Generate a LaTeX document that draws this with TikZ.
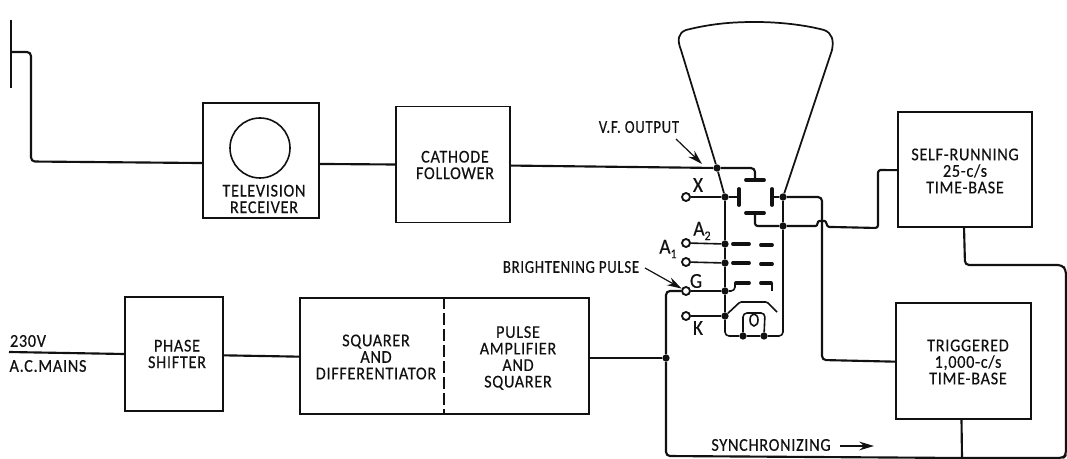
\documentclass[tikz,border=0pt]{standalone}
\usepackage{fontspec}
\setmainfont[LetterSpace=4,FakeStretch=0.9,FakeBold=0.35]{Carlito}
\newfontfamily\narrowface[LetterSpace=4,FakeStretch=0.82,FakeBold=0.35]{Carlito}
\usetikzlibrary{arrows.meta}
\definecolor{ink}{HTML}{111111}
\tikzset{
  wire/.style={draw=ink,line width=1.6pt,line join=round,rounded corners=3pt},
  thin wire/.style={draw=ink,line width=1.2pt,line join=round,rounded corners=3pt},
  plate/.style={draw=ink,line width=2.9pt,line cap=round},
  boxnode/.style={draw=ink,line width=1.2pt,inner sep=0pt,text=ink},
  label/.style={text=ink,inner sep=0pt,align=center,font=\fontsize{13.5}{12.4}\selectfont},
  narrowlabel/.style={text=ink,inner sep=0pt,align=center,font=\narrowface\fontsize{13.5}{12.4}\selectfont},
  pin/.style={text=ink,inner sep=0pt,font=\fontsize{16}{16}\selectfont},
  dot/.style={circle,fill=ink,inner sep=0pt,minimum size=5.5pt},
  term/.style={circle,draw=ink,fill=white,line width=1.4pt,inner sep=0pt,minimum size=6pt},
  pointer/.style={draw=ink,line width=0.9pt,-{Stealth[length=11pt,width=6.5pt]}},
}
\newcommand{\lowr}[1]{\raisebox{-3.5pt}{\fontsize{10}{10}\selectfont #1}}
\begin{document}
\begin{tikzpicture}[x=0.75pt,y=-0.75pt]
\useasboundingbox (0,0) rectangle (1067,459);
% boxes
\node[boxnode,minimum width=87pt,minimum height=86.5pt] (tv) at (261,160.5) {};
\node[boxnode,minimum width=85.5pt,minimum height=87pt] (cf) at (453,164.5) {};
\node[boxnode,minimum width=100.5pt,minimum height=86.5pt] (self) at (965,169.5) {};
\node[boxnode,minimum width=101.5pt,minimum height=87pt] (trig) at (963.5,361) {};
\node[boxnode,minimum width=73.5pt,minimum height=85.5pt] (phase) at (174,354) {};
\node[boxnode,minimum width=216.75pt,minimum height=87pt] (sq) at (444.5,356) {};
\draw[draw=ink,line width=1.2pt,dash pattern=on 9pt off 3pt] (sq.north -| 444,0) -- (sq.south -| 444,0);
% box texts
\node[circle,draw=ink,line width=1.2pt,minimum size=45pt,inner sep=0pt] (screen) at (260,148) {};
\node[label] (tvtext) at (264,199) {TELEVISION\\RECEIVER};
\node[label] (cftext) at (455,165) {CATHODE\\FOLLOWER};
\node[label] (selftext) at (965,171) {SELF-RUNNING\\25-c/s\\TIME-BASE};
\node[label] (trigtext) at (968,362) {TRIGGERED\\1,000-c/s\\TIME-BASE};
\node[label] (phasetext) at (177,354) {PHASE\\SHIFTER};
\node[label] (sqtext) at (376,357) {SQUARER\\AND\\DIFFERENTIATOR};
\node[label] (pulsetext) at (518,358) {PULSE\\AMPLIFIER\\AND\\SQUARER};
% free labels
\node[label] (mv) at (28,341) {230V};
\node[label] (mains) at (48,366) {A.C.MAINS};
\node[narrowlabel] (vf) at (639,127) {V.F. OUTPUT};
\node[narrowlabel] (bp) at (571,267) {BRIGHTENING PULSE};
\node[label] (sync) at (771,445) {SYNCHRONIZING};
\node[pin] (lX) at (698,185) {X};
\node[pin] (lA2) at (702,231) {A\lowr{2}};
\node[pin] (lA1) at (668,249) {A\lowr{1}};
\node[pin] (lG) at (696,281) {G};
\node[pin] (lK) at (698,328) {K};
% terminals
\node[term] (tX) at (686,197) {};
\node[term] (tA2) at (686,243) {};
\node[term] (tA1) at (686,262) {};
\node[term] (tG) at (686,291) {};
\node[term] (tK) at (686,316) {};
% junction dots
\node[dot] (jV) at (717,168) {};
\node[dot] (jL) at (725,197) {};
\node[dot] (jR) at (783,197) {};
\node[dot] (jP) at (783,226) {};
\node[dot] (jA2) at (725,244) {};
\node[dot] (jA1) at (725,263) {};
\node[dot] (jG) at (725,291) {};
\node[dot] (jK) at (725,316) {};
\node[dot] (jH1) at (743,336) {};
\node[dot] (jH2) at (764,336) {};
\node[dot] (jS) at (666,358) {};
% free points
\coordinate (aT) at (11,20);
\coordinate (aB) at (11,88);
\coordinate (aM) at (11,52);
\coordinate (mIn) at (9,352);
\coordinate (pTop) at (755,180);
\coordinate (pBot) at (755,213);
\coordinate (pL) at (739,197);
\coordinate (pR) at (772,197);
\coordinate (vfS) at (676,139);
\coordinate (vfE) at (702,164);
\coordinate (bpS) at (645,268);
\coordinate (syncS) at (840,446);
\coordinate (syncE) at (874,446);
% CRT envelope
\draw[draw=ink,line width=1.3pt] (jV) -- (681,50) .. controls (677,40) and (678,33) .. (686,30)
  .. controls (710,24) and (730,22) .. (755,22) .. controls (780,22) and (805,25) .. (824,30)
  .. controls (832,33) and (834,40) .. (832,50) -- (jR);
\draw[draw=ink,line width=1.3pt] (jV) -- (jL);
% electrodes
\draw[plate] (746,180) -- (764,180);
\draw[plate] (746,213) -- (764,213);
\draw[plate] (739,189) -- (739,205);
\draw[plate] (772,189) -- (772,205);
\draw[plate] (jA2) ++(8,0) -- (749,244);
\draw[plate] (761,245) -- (772,245);
\draw[plate] (jA1) ++(8,0) -- (749,263);
\draw[plate] (761,264) -- (772,264);
\draw[plate] (736,283) -- (749,283);
\draw[plate] (761,283) -- (771,283);
% main signal path
\draw[wire,line width=2pt] (aT) -- (aB);
\draw[wire] (aM) -- (31,52) -- (31,161.5) -- ([yshift=-1.9pt]tv.west);
\draw[wire] ([yshift=-2.6pt]tv.east) -- (cf.west);
\draw[wire] ([yshift=-0.8pt]cf.east) -- (jV) -- (755,168) -- (pTop);
\draw[wire] ([yshift=-1pt]phase.east) -- ([yshift=-0.5pt]sq.west);
\draw[wire] (mIn) -- (phase.west);
\draw[wire] ([yshift=-1.5pt]sq.east) -- (jS);
% terminals to tube
\draw[thin wire] (tX) -- (jL) -- (pL);
\draw[thin wire] (tA2) -- (jA2);
\draw[thin wire] (tA1) -- (jA1);
\draw[thin wire] (tG) -- (jG) -- (735,291) -- (735,283);
\draw[thin wire] (772,283) -- (772,291);
\draw[thin wire] (tK) -- (jK);
% tube rails
\draw[thin wire] (jL) -- (jA2) -- (jA1) -- (jG) -- (jK) -- (725,336) -- (jH1) -- (jH2) -- (783,336) -- (jP) -- (jR) -- (pR);
% heater and cathode
\draw[thin wire] (jH1) -- (743,313) -- (765,313) -- (jH2);
\draw[draw=ink,line width=1.2pt] (754,320) ellipse [x radius=4,y radius=6];
\draw[thin wire,rounded corners=1pt] (jK) -- (740,302) -- (767,302) -- (777,312);
% deflection wiring
\draw[wire] (jR) -- (822,197) -- (822,360) -- ([yshift=-0.5pt]trig.west);
\draw[wire,rounded corners=2pt] (pBot) -- (755,226) -- (jP) -- (813,226) .. controls (818,226) and (817,221) .. (822,221) .. controls (827,221) and (826,227) .. (832,227) -- (878,228) -- (878,170) -- ([yshift=-0.5pt]self.west);
% sync loop
\draw[wire] (tG) -- (666,291) -- (jS) -- (666,456) -- (962,458) -- (1063,458) -- (1066,455) -- (1066,270) -- (1062,265) -- (965,265) -- (964,227);
\draw[wire] ([xshift=-1.5pt]trig.south) -- (962,458);
% pointers
\draw[pointer] (vfS) -- (vfE);
\draw[pointer] (bpS) -- (tG);
\draw[pointer,line width=1.1pt] (syncS) -- (syncE);
\end{tikzpicture}
\end{document}
